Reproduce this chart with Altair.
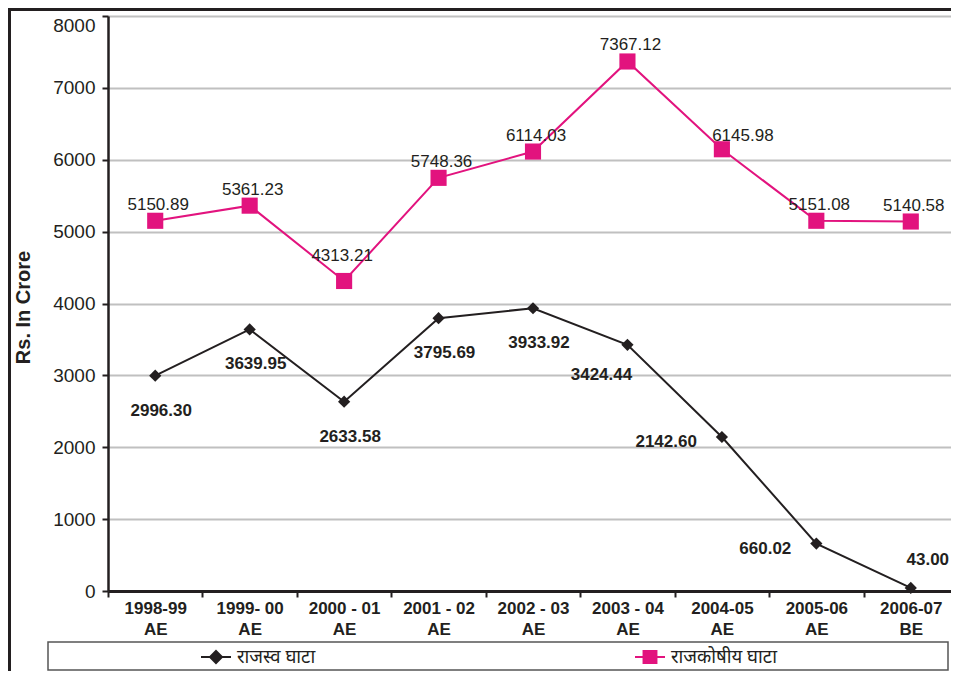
import altair as alt
import pandas as pd

# ---- data ----
years = ["1998-99\nAE", "1999- 00\nAE", "2000 - 01\nAE", "2001 - 02\nAE", "2002 - 03\nAE",
         "2003 - 04\nAE", "2004-05\nAE", "2005-06\nAE", "2006-07\nBE"]
revenue_deficit = [2996.30, 3639.95, 2633.58, 3795.69, 3933.92, 3424.44, 2142.60, 660.02, 43.00]
fiscal_deficit = [5150.89, 5361.23, 4313.21, 5748.36, 6114.03, 7367.12, 6145.98, 5151.08, 5140.58]
series_names = ["राजस्व घाटा", "राजकोषीय घाटा"]
y_ticks = [0, 1000, 2000, 3000, 4000, 5000, 6000, 7000, 8000]

rows = []
for name, vals in zip(series_names, [revenue_deficit, fiscal_deficit]):
    for yr, v in zip(years, vals):
        rows.append({"year": yr, "series": name, "value": v, "label": f"{v:.2f}"})
df = pd.DataFrame(rows)

INK = "#231f20"
PINK = "#e2137e"
FONT = "Liberation Sans"

base = alt.Chart(df)

x_enc = alt.X(
    "year:N", sort=years,
    scale=alt.Scale(type="band", paddingInner=0, paddingOuter=0, range=[0, 850]),
    axis=alt.Axis(
        title=None, labelAngle=0, tickBand="extent", grid=False,
        labelExpr="split(datum.label, '\\n')",
        labelFont=FONT, labelFontSize=17, labelFontWeight="bold", labelColor=INK,
        labelLineHeight=21, labelPadding=3,
        domainColor=INK, domainWidth=3, tickColor=INK, tickWidth=2, tickSize=6,
    ),
)
y_enc = alt.Y(
    "value:Q",
    scale=alt.Scale(domain=[0, 8000], nice=False),
    axis=alt.Axis(
        values=y_ticks, format="d", grid=True, gridColor="#c0c0c0", gridWidth=2,
        labelFont=FONT, labelFontSize=19, labelColor=INK, labelPadding=7,
        labelBaseline={"condition": {"test": "datum.value == 8000", "value": "top"},
                       "value": "middle"},
        domainColor=INK, domainWidth=2.5, tickColor=INK, tickWidth=2, tickSize=6,
        title="Rs. In Crore", titleFont=FONT, titleFontSize=20, titleFontWeight="bold",
        titleColor=INK, titleX=-85, titleY=291, titleAngle=-90, titleAlign="center",
        titleBaseline="middle",
    ),
)

def sel(name):
    return alt.datum.series == name

DIAMOND_LINE = "M-1,0L1,0M0,-0.4L0.4,0L0,0.4L-0.4,0Z"
SQUARE_LINE = "M-1,0L1,0M-0.43,-0.4L0.43,-0.4L0.43,0.4L-0.43,0.4Z"

def legend(sym, color, lx):
    return alt.Legend(
        orient="none", legendX=lx, legendY=625, direction="horizontal", title=None,
        padding=0, symbolType=sym, symbolSize=900, symbolStrokeWidth=2,
        symbolFillColor=color, symbolStrokeColor=color, symbolOpacity=1,
        labelFont="Noto Sans, DejaVu Sans, sans-serif", labelFontSize=18.5,
        labelColor=INK, labelOffset=5,
    )

rev_line = base.transform_filter(sel(series_names[0])).mark_line(strokeWidth=2).encode(
    x=x_enc, y=y_enc,
    color=alt.Color("series:N", scale=alt.Scale(domain=[series_names[0]], range=[INK]),
                    legend=legend(DIAMOND_LINE, INK, 92)),
)
rev_pts = base.transform_filter(sel(series_names[0])).mark_point(
    shape="diamond", filled=True, size=150, color=INK, opacity=1
).encode(x=x_enc, y=y_enc)

fis_line = base.transform_filter(sel(series_names[1])).mark_line(strokeWidth=2).encode(
    x=x_enc, y=y_enc,
    color=alt.Color("series:N", scale=alt.Scale(domain=[series_names[1]], range=[PINK]),
                    legend=legend(SQUARE_LINE, PINK, 526)),
)
fis_pts = base.transform_filter(sel(series_names[1])).mark_square(
    size=260, color=PINK, opacity=1
).encode(x=x_enc, y=y_enc)

def labels(name, yrs, dx, dy, align="center", bold=False):
    return base.transform_filter(sel(name)).transform_filter(
        alt.FieldOneOfPredicate(field="year", oneOf=yrs)
    ).mark_text(
        font=FONT, fontSize=17, fontWeight="bold" if bold else "normal", color=INK,
        dx=dx, dy=dy, align=align, baseline="middle",
    ).encode(x=x_enc, y=y_enc, text="label:N")

rev_name, fis_name = series_names
rev_labels = [
    labels(rev_name, years[0:5], 6, 35, bold=True),
    labels(rev_name, years[5:6], -26, 30, bold=True),
    labels(rev_name, years[6:8], -25, 5, align="right", bold=True),
    labels(rev_name, years[8:9], 17, -28, bold=True),
]
fis_labels = [
    labels(fis_name, years[0:2] + years[3:6] + years[7:9], 3, -16),
    labels(fis_name, years[2:3], -2, -25),
    labels(fis_name, years[6:7], 21, -13),
]

frame = alt.Chart(alt.Data(values=[{}])).mark_rect(
    fill=None, stroke=INK, strokeWidth=3
).encode(x=alt.value(-98.5), x2=alt.value(1000), y=alt.value(-6.5), y2=alt.value(1000))

legend_box = alt.Chart(alt.Data(values=[{}])).mark_rect(
    fill="white", stroke="#555555", strokeWidth=1.5
).encode(x=alt.value(-60), x2=alt.value(840), y=alt.value(626), y2=alt.value(654))

chart = alt.layer(
    frame, legend_box, rev_line, rev_pts, fis_line, fis_pts, *rev_labels, *fis_labels
).resolve_scale(color="independent").properties(
    width=843, height=575,
    autosize=alt.AutoSizeParams(type="none"),
    padding={"left": 100, "top": 8, "right": 0, "bottom": 80},
).configure_view(stroke=None).configure(background="white")

chart.save("out.html", embed_options={"renderer": "svg", "actions": False})
